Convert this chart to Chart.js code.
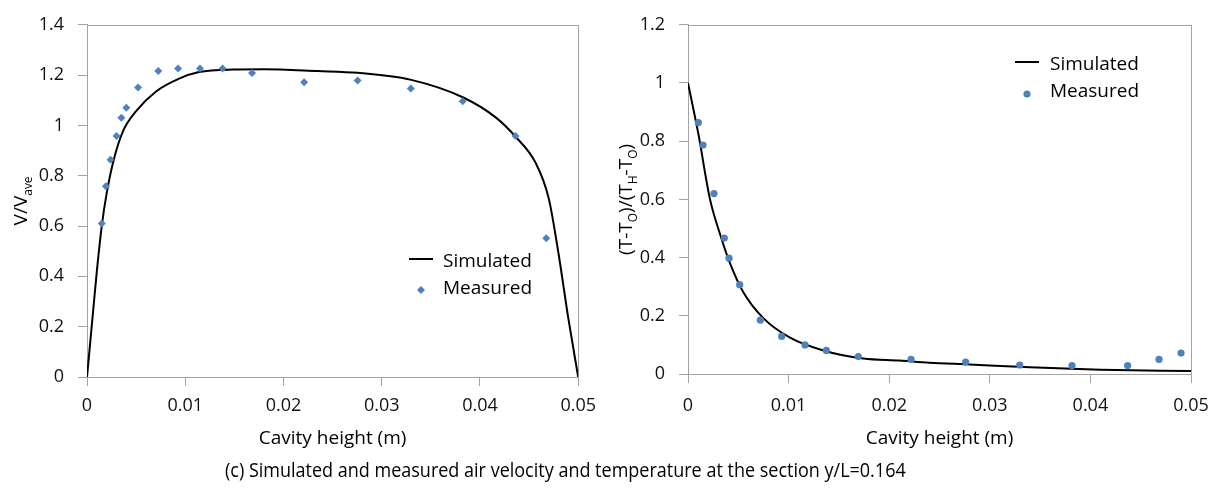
<!DOCTYPE html>
<html>
<head>
<meta charset="utf-8">
<script src="https://cdn.jsdelivr.net/npm/chart.js@4.4.1/dist/chart.umd.min.js"></script>
<style>
  body { margin: 0; background: #fff; width: 1222px; height: 490px; overflow: hidden; position: relative; font-family: 'Open Sans', sans-serif; }
  #left-box { position: absolute; left: 0; top: 0; width: 605px; height: 460px; }
  #right-box { position: absolute; left: 605px; top: 0; width: 617px; height: 460px; }
  #caption { position: absolute; left: 225px; top: 458px; font-size: 20px; line-height: 24px; white-space: nowrap; color: #000; transform: scaleX(0.9); transform-origin: 0 50%; }
</style>
</head>
<body>
<div id="left-box"><canvas id="velocity-chart"></canvas></div>
<div id="right-box"><canvas id="temperature-chart"></canvas></div>
<div id="caption">(c) Simulated and measured air velocity and temperature at the section y/L=0.164</div>
<script>
// ---- data ----
const xTickValues = [0, 0.01, 0.02, 0.03, 0.04, 0.05]
const xTickLabels = ['0', '0.01', '0.02', '0.03', '0.04', '0.05']

const velTickValues = [0, 0.2, 0.4, 0.6, 0.8, 1, 1.2, 1.4]
const velTickLabels = ['0', '0.2', '0.4', '0.6', '0.8', '1', '1.2', '1.4']
const tempTickValues = [0, 0.2, 0.4, 0.6, 0.8, 1, 1.2]
const tempTickLabels = ['0', '0.2', '0.4', '0.6', '0.8', '1', '1.2']

// velocity, simulated curve
const velSimX = [0, 0.0005, 0.001, 0.0015, 0.002, 0.0027, 0.0037, 0.005, 0.00703, 0.00938, 0.0114, 0.01475, 0.018, 0.0235, 0.02755, 0.0329, 0.0383, 0.04163, 0.04365, 0.04567, 0.047, 0.048, 0.049, 0.05]
const velSimY = [0, 0.21, 0.42, 0.6, 0.73, 0.86, 0.98, 1.057, 1.135, 1.186, 1.212, 1.222, 1.223, 1.216, 1.209, 1.182, 1.111, 1.031, 0.954, 0.851, 0.71, 0.49, 0.232, 0]
// velocity, measured
const velMeasX = [0.00151, 0.00192, 0.00239, 0.0030, 0.0035, 0.0040, 0.0052, 0.00726, 0.00927, 0.0115, 0.0138, 0.0168, 0.0221, 0.02755, 0.03296, 0.03824, 0.04362, 0.04675]
const velMeasY = [0.61, 0.758, 0.864, 0.958, 1.031, 1.07, 1.151, 1.216, 1.226, 1.226, 1.226, 1.208, 1.172, 1.179, 1.147, 1.096, 0.958, 0.552]

// temperature, simulated curve
const tempSimX = [0, 0.00103, 0.00219, 0.00318, 0.00417, 0.0055, 0.00749, 0.01014, 0.01345, 0.01743, 0.021, 0.024, 0.028, 0.034, 0.041, 0.05]
const tempSimY = [1, 0.825, 0.6, 0.481, 0.381, 0.281, 0.192, 0.125, 0.081, 0.053, 0.046, 0.039, 0.033, 0.023, 0.015, 0.01]
// temperature, measured
const tempMeasX = [0.00103, 0.00149, 0.00258, 0.00361, 0.00408, 0.00514, 0.00719, 0.00931, 0.01163, 0.01375, 0.01693, 0.02217, 0.0276, 0.03297, 0.03817, 0.0437, 0.04682, 0.04901]
const tempMeasY = [0.864, 0.787, 0.62, 0.467, 0.398, 0.307, 0.185, 0.129, 0.1, 0.081, 0.06, 0.05, 0.041, 0.031, 0.029, 0.029, 0.05, 0.072]

const seriesNames = ['Simulated', 'Measured']

// ---- styles ----
const axisGray = '#a3a3a3'
const markBlue = '#4f81bd'
const fontFamily = "'Open Sans', sans-serif"

function points(xs, ys) {
    return xs.map((x, i) => ({ x: x, y: ys[i] }))
}

/*
** frame round the plot area, like the Excel plot border
*/
const plotBorder = {
    id: 'plotBorder',
    beforeDatasetsDraw(chart) {
        const { ctx, chartArea: a } = chart
        ctx.save()
        ctx.strokeStyle = axisGray
        ctx.lineWidth = 1
        ctx.strokeRect(Math.round(a.left) + 0.5, Math.round(a.top) + 0.5, Math.round(a.right - a.left), Math.round(a.bottom - a.top))
        ctx.restore()
    }
}

/*
** rotated y title with subscripts
*/
const yTitle = {
    id: 'yTitle',
    afterDraw(chart, args, opts) {
        const { ctx, chartArea: a } = chart
        const big = '19px ' + fontFamily
        const small = '12px ' + fontFamily
        ctx.save()
        let total = 0
        opts.parts.forEach(p => {
            ctx.font = p.sub ? small : big
            total += ctx.measureText(p.text).width
        })
        ctx.translate(opts.x, (a.top + a.bottom) / 2)
        ctx.rotate(-Math.PI / 2)
        ctx.fillStyle = '#000'
        ctx.textBaseline = 'alphabetic'
        let pos = -total / 2
        opts.parts.forEach(p => {
            ctx.font = p.sub ? small : big
            ctx.fillText(p.text, pos, p.sub ? 5 : 0)
            pos += ctx.measureText(p.text).width
        })
        ctx.restore()
    }
}

/*
** legend inside the plot
*/
const innerLegend = {
    id: 'innerLegend',
    afterDraw(chart, args, opts) {
        const ctx = chart.ctx
        ctx.save()
        ctx.font = '19px ' + fontFamily
        ctx.textBaseline = 'alphabetic'
        chart.data.datasets.forEach((ds, i) => {
            const row = opts.rows[i]
            if (ds.showLine) {
                ctx.strokeStyle = ds.borderColor
                ctx.lineWidth = ds.borderWidth
                ctx.beginPath()
                ctx.moveTo(opts.markX - 12, row.mark)
                ctx.lineTo(opts.markX + 12, row.mark)
                ctx.stroke()
            } else {
                ctx.fillStyle = ds.backgroundColor
                ctx.beginPath()
                const r = ds.pointRadius
                if (ds.pointStyle === 'rectRot') {
                    ctx.moveTo(opts.markX, row.mark - r)
                    ctx.lineTo(opts.markX + r, row.mark)
                    ctx.lineTo(opts.markX, row.mark + r)
                    ctx.lineTo(opts.markX - r, row.mark)
                    ctx.closePath()
                } else {
                    ctx.arc(opts.markX, row.mark, r, 0, Math.PI * 2)
                }
                ctx.fill()
            }
            ctx.fillStyle = '#000'
            ctx.fillText(ds.label, opts.textX, row.base)
        })
        ctx.restore()
    }
}

function makeOptions(cfg) {
    return {
        responsive: true,
        maintainAspectRatio: false,
        animation: false,
        devicePixelRatio: 1,
        layout: { padding: { top: 14, right: cfg.padRight, left: 0, bottom: 0 } },
        plugins: {
            legend: { display: false },
            tooltip: { enabled: false },
            yTitle: { x: 27, parts: cfg.titleParts },
            innerLegend: cfg.legend
        },
        scales: {
            x: {
                type: 'linear',
                min: 0,
                max: 0.05,
                afterBuildTicks: scale => { scale.ticks = xTickValues.map(v => ({ value: v })) },
                afterFit: scale => { scale.height = cfg.xHeight },
                ticks: {
                    callback: (value, index) => xTickLabels[index],
                    font: { family: fontFamily, size: 18 },
                    color: '#111',
                    padding: cfg.xPad,
                    maxRotation: 0
                },
                grid: { display: true, drawOnChartArea: false, drawTicks: true, tickLength: 9, color: axisGray },
                border: { display: true, color: axisGray },
                title: {
                    display: true,
                    text: 'Cavity height (m)',
                    font: { family: fontFamily, size: 19 },
                    color: '#000',
                    padding: { top: 0, bottom: 10 }
                }
            },
            y: {
                type: 'linear',
                min: 0,
                max: cfg.yMax,
                afterBuildTicks: scale => { scale.ticks = cfg.yTickValues.map(v => ({ value: v })) },
                afterFit: scale => { scale.width = cfg.yWidth },
                ticks: {
                    callback: (value, index) => cfg.yTickLabels[index],
                    font: { family: fontFamily, size: 18 },
                    color: '#111',
                    padding: 14
                },
                grid: { display: true, drawOnChartArea: false, drawTicks: true, tickLength: 9, color: axisGray },
                border: { display: true, color: axisGray }
            }
        }
    }
}

const velocityCanvas = document.querySelector('#velocity-chart')
const temperatureCanvas = document.querySelector('#temperature-chart')

new Chart(velocityCanvas.getContext('2d'), {
    type: 'scatter',
    data: {
        datasets: [
            {
                label: seriesNames[0],
                data: points(velSimX, velSimY),
                showLine: true,
                borderColor: '#000',
                borderWidth: 2,
                pointRadius: 0,
                cubicInterpolationMode: 'monotone',
                order: 1
            },
            {
                label: seriesNames[1],
                data: points(velMeasX, velMeasY),
                showLine: false,
                pointStyle: 'rectRot',
                pointRadius: 4,
                backgroundColor: markBlue,
                borderWidth: 0,
                order: 0
            }
        ]
    },
    options: makeOptions({
        padRight: 22,
        xHeight: 83,
        xPad: 9,
        yWidth: 87,
        yMax: 1.4,
        yTickValues: velTickValues,
        yTickLabels: velTickLabels,
        titleParts: [{ text: 'V/V' }, { text: 'ave', sub: true }],
        legend: { markX: 421, textX: 443, rows: [{ mark: 259, base: 267 }, { mark: 290, base: 294 }] }
    }),
    plugins: [plotBorder, yTitle, innerLegend]
})

new Chart(temperatureCanvas.getContext('2d'), {
    type: 'scatter',
    data: {
        datasets: [
            {
                label: seriesNames[0],
                data: points(tempSimX, tempSimY),
                showLine: true,
                borderColor: '#000',
                borderWidth: 2,
                pointRadius: 0,
                cubicInterpolationMode: 'monotone',
                order: 1
            },
            {
                label: seriesNames[1],
                data: points(tempMeasX, tempMeasY),
                showLine: false,
                pointStyle: 'circle',
                pointRadius: 3.6,
                backgroundColor: markBlue,
                borderWidth: 0,
                order: 0
            }
        ]
    },
    options: makeOptions({
        padRight: 31,
        xHeight: 86,
        xPad: 12,
        yWidth: 83,
        yMax: 1.2,
        yTickValues: tempTickValues,
        yTickLabels: tempTickLabels,
        titleParts: [{ text: '(T-T' }, { text: 'O', sub: true }, { text: ')/(T' }, { text: 'H', sub: true }, { text: '-T' }, { text: 'O', sub: true }, { text: ')' }],
        legend: { markX: 422, textX: 445, rows: [{ mark: 62, base: 70 }, { mark: 94, base: 97 }] }
    }),
    plugins: [plotBorder, yTitle, innerLegend]
})
</script>
</body>
</html>
